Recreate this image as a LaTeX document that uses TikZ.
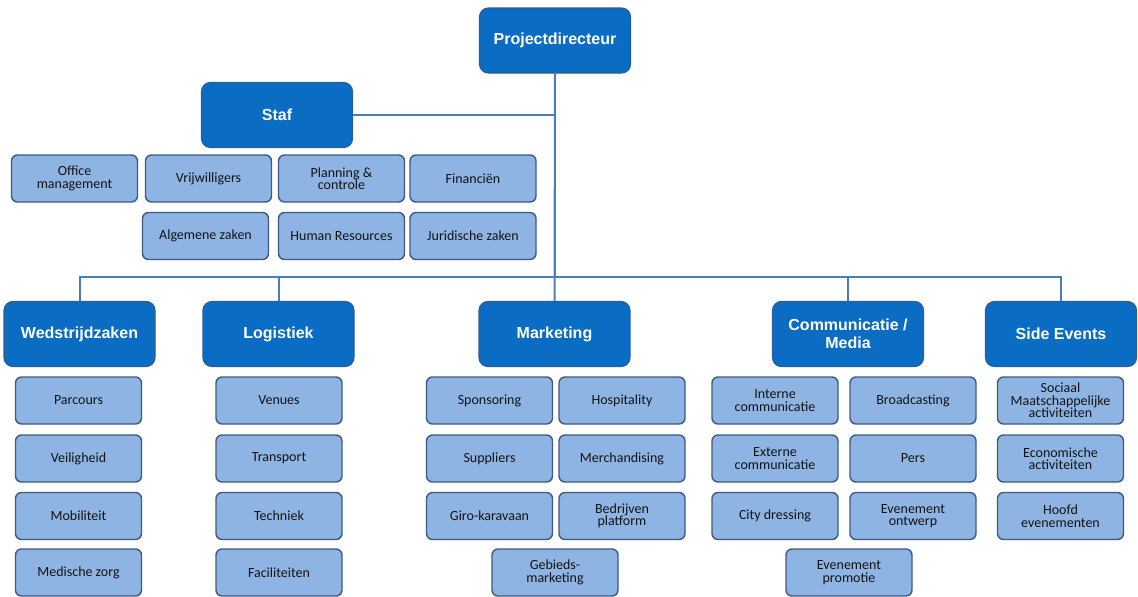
\documentclass[tikz,border=0pt]{standalone}
\usepackage{fontspec}
\setmainfont{Carlito}
\newfontfamily\hdfont{Liberation Sans}
\definecolor{hdfill}{HTML}{0A6CC2}
\definecolor{hdline}{HTML}{2A5E96}
\definecolor{subfill}{HTML}{8DB4E2}
\definecolor{subline}{HTML}{3E5A80}
\definecolor{conncol}{HTML}{4A7EBB}
\definecolor{subtext}{HTML}{141414}
\tikzset{
  hdbox/.style={draw=hdline, line width=1.2pt, fill=hdfill, rounded corners=9pt,
    minimum width=151pt, minimum height=65pt, inner sep=2pt, align=center,
    text=white, font=\hdfont\bfseries\fontsize{16}{18}\selectfont},
  subbox/.style={draw=subline, line width=1.4pt, fill=subfill, rounded corners=6pt,
    minimum width=126pt, minimum height=47pt, inner sep=1pt, align=center,
    text=subtext, font=\fontsize{14}{12.5}\selectfont},
  conn/.style={draw=conncol, line width=2pt}
}
\begin{document}
\begin{tikzpicture}[x=1pt,y=-1pt]
\useasboundingbox (0,0) rectangle (1138,597);
\coordinate (bus) at (0,277);
% headers
\node[hdbox] (pd) at (555,40.5) {Projectdirecteur};
\node[hdbox] (staf) at (277,115) {Staf};
\node[hdbox] (ws) at (79.5,334) {Wedstrijdzaken};
\node[hdbox] (lg) at (278.5,334) {Logistiek};
\node[hdbox] (mk) at (554.5,334) {Marketing};
\node[hdbox] (cm) at (848,334) {Communicatie /\\Media};
\node[hdbox] (se) at (1061,334) {Side Events};
% staf
\node[subbox] (office) at (74.5,178.5) {Office\\management};
\node[subbox] (vrij) at (208.5,178.5) {Vrijwilligers};
\node[subbox] (plan) at (341.5,178.5) {Planning \&\\controle};
\node[subbox] (fin) at (473,178.5) {Financiën};
\node[subbox] (alg) at (205.5,236) {Algemene zaken};
\node[subbox] (hr) at (341.5,236) {Human Resources};
\node[subbox] (jur) at (473,236) {Juridische zaken};
% wedstrijdzaken
\node[subbox] (parc) at (78.5,400.5) {Parcours};
\node[subbox] (veil) at (78.5,458.5) {Veiligheid};
\node[subbox] (mob) at (78.5,516) {Mobiliteit};
\node[subbox] (med) at (78.5,572.5) {Medische zorg};
% logistiek
\node[subbox] (ven) at (279,400.5) {Venues};
\node[subbox] (trans) at (279,458.5) {Transport};
\node[subbox] (tech) at (279,516) {Techniek};
\node[subbox] (fac) at (279,572.5) {Faciliteiten};
% marketing
\node[subbox] (spons) at (489.5,400.5) {Sponsoring};
\node[subbox] (hosp) at (622,400.5) {Hospitality};
\node[subbox] (supp) at (489.5,458.5) {Suppliers};
\node[subbox] (merch) at (622,458.5) {Merchandising};
\node[subbox] (giro) at (489.5,516) {Giro-karavaan};
\node[subbox] (bedr) at (622,516) {Bedrijven\\platform};
\node[subbox] (gebied) at (555,572.5) {Gebieds-\\marketing};
% communicatie
\node[subbox] (intc) at (775,400.5) {Interne\\communicatie};
\node[subbox] (broad) at (913,400.5) {Broadcasting};
\node[subbox] (extc) at (775,458.5) {Externe\\communicatie};
\node[subbox] (pers) at (913,458.5) {Pers};
\node[subbox] (city) at (775,516) {City dressing};
\node[subbox] (evo) at (913,516) {Evenement\\ontwerp};
\node[subbox] (evp) at (849,572.5) {Evenement\\promotie};
% side events
\node[subbox] (soc) at (1060.5,400.5) {Sociaal\\Maatschappelijke\\activiteiten};
\node[subbox] (eco) at (1060.5,458.5) {Economische\\activiteiten};
\node[subbox] (hoofd) at (1060.5,516) {Hoofd\\evenementen};
% connectors
\draw[conn] (staf.east) -- (staf.east -| pd.south);
\draw[conn] (pd.south) -- (pd.south |- bus) -| (ws.north);
\draw[conn] (pd.south) -- (pd.south |- bus) -| (lg.north);
\draw[conn] (pd.south) -- (mk.north);
\draw[conn] (pd.south) -- (pd.south |- bus) -| (cm.north);
\draw[conn] (pd.south) -- (pd.south |- bus) -| (se.north);
\end{tikzpicture}
\end{document}
